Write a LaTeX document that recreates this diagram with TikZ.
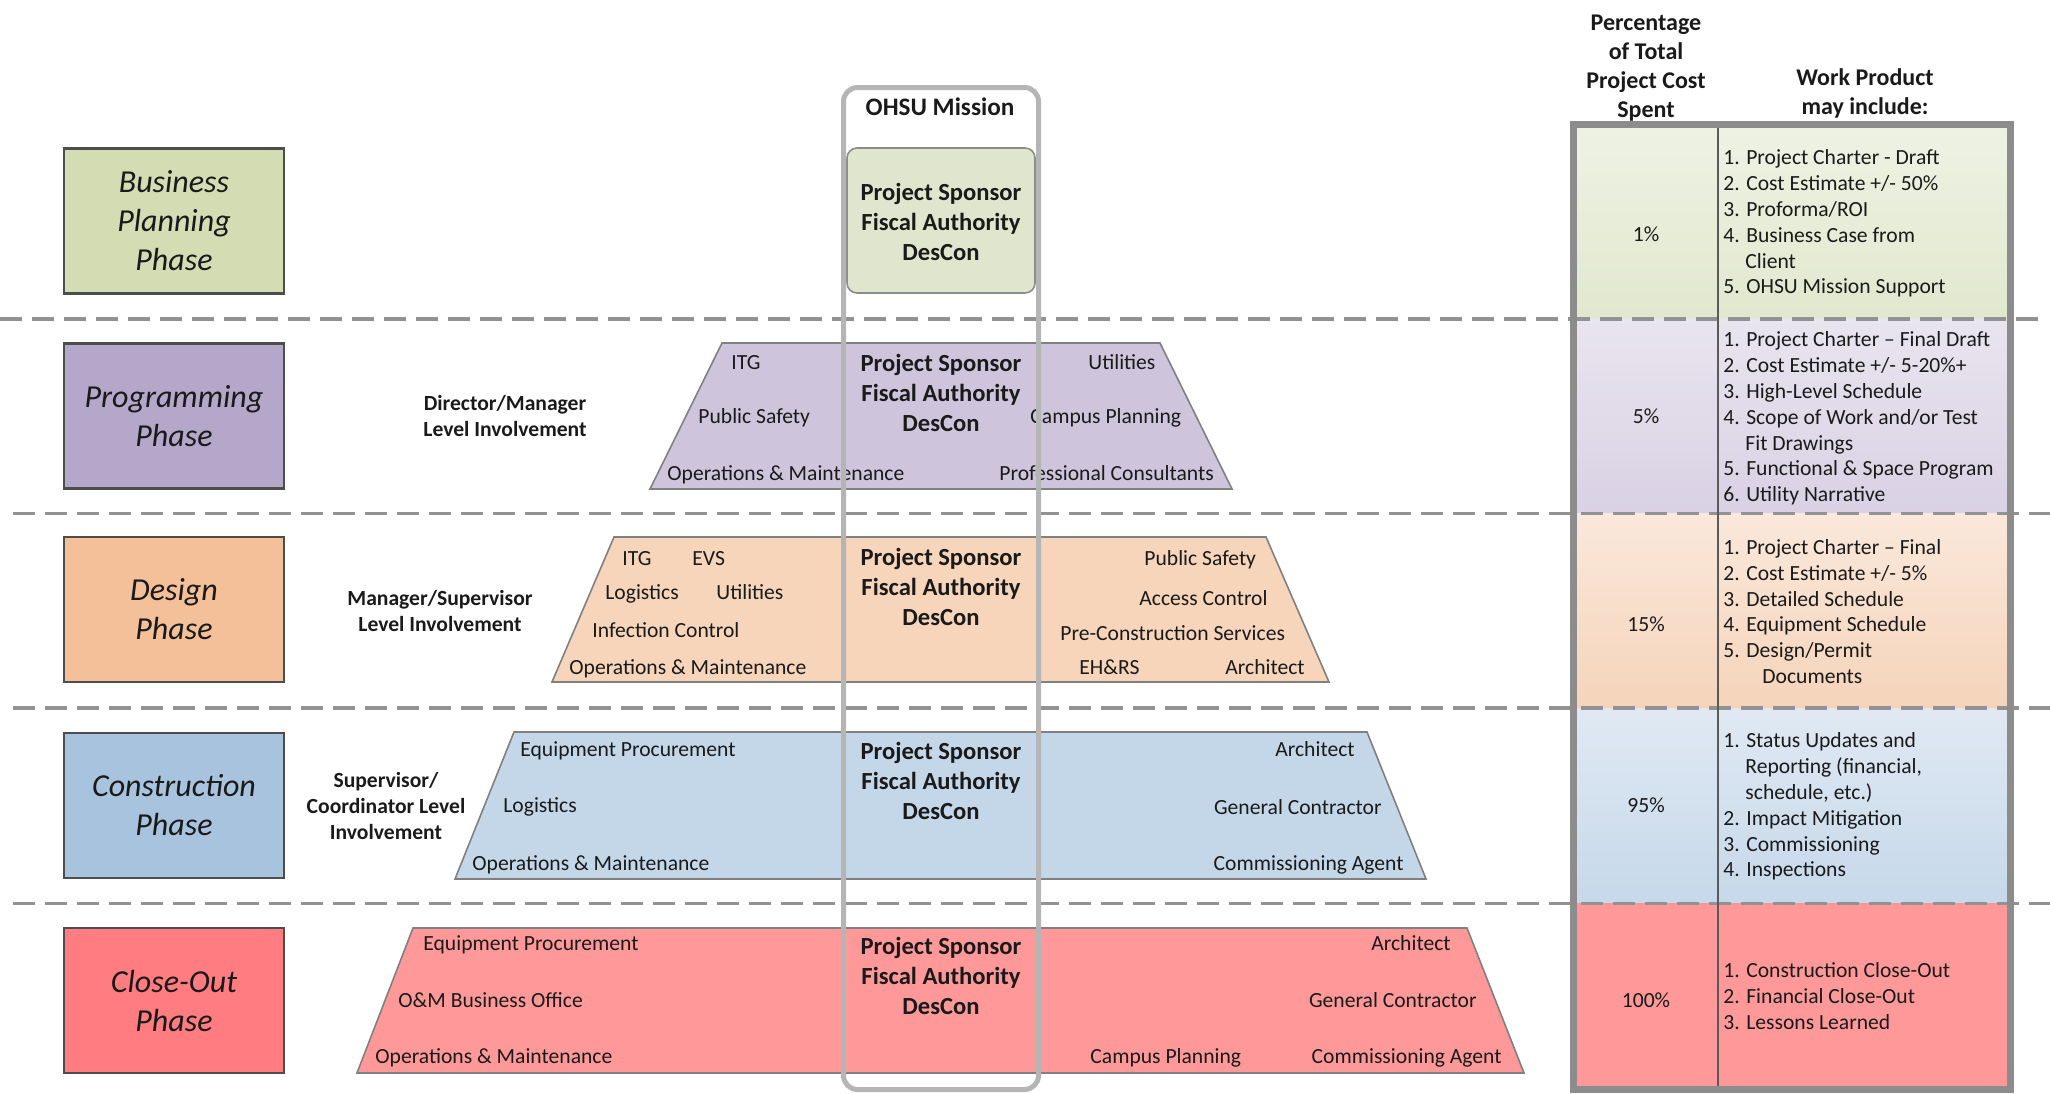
\documentclass[tikz,border=0pt]{standalone}
\usepackage{fontspec}
\setmainfont{Carlito}
\definecolor{busbox}{HTML}{D4DCB4}
\definecolor{progbox}{HTML}{B4A7C9}
\definecolor{desbox}{HTML}{F3C09A}
\definecolor{conbox}{HTML}{A7C3DD}
\definecolor{clobox}{HTML}{FF7C80}
\definecolor{progtrap}{HTML}{CEC5DC}
\definecolor{destrap}{HTML}{F7D5BA}
\definecolor{contrap}{HTML}{C4D7E9}
\definecolor{clotrap}{HTML}{FF9999}
\definecolor{buscenter}{HTML}{E0E6CD}
\definecolor{colgray}{HTML}{B5B5B5}
\definecolor{dashgray}{HTML}{929292}
\definecolor{tabgray}{HTML}{8C8C8C}
\definecolor{divgray}{HTML}{5A5A5A}
\definecolor{trapline}{HTML}{808080}
\definecolor{boxline}{HTML}{4D4D4D}
\definecolor{txt}{HTML}{1A1A1A}
\definecolor{rowAt}{HTML}{EEF2E4}
\definecolor{rowAb}{HTML}{E1E8CE}
\definecolor{rowBt}{HTML}{E9E5EF}
\definecolor{rowBb}{HTML}{D9D1E4}
\definecolor{rowCt}{HTML}{FAE8DB}
\definecolor{rowCb}{HTML}{F5D4BA}
\definecolor{rowDt}{HTML}{E0E9F3}
\definecolor{rowDb}{HTML}{C6D8EA}
\definecolor{rowE}{HTML}{FF9999}
\begin{document}
\begin{tikzpicture}[x=0.5pt,y=-0.5pt,
  phase/.style={draw=boxline, line width=1.1pt, minimum width=110pt, minimum height=72.5pt,
    inner sep=0pt, align=center, text=txt, font=\fontsize{16}{19.5}\selectfont\itshape},
  trap/.style={draw=trapline, line width=0.8pt},
  lab/.style={font=\fontsize{10.8}{13}\selectfont, inner sep=0pt, text=txt},
  labl/.style={lab, anchor=mid west, yshift=-1.6pt},
  labr/.style={lab, anchor=mid east, yshift=-1.6pt},
  lvl/.style={font=\fontsize{10.8}{13}\selectfont\bfseries, inner sep=0pt, align=center, text=txt},
  ctr/.style={font=\fontsize{12.3}{15}\selectfont\bfseries, inner sep=0pt, align=center, text=txt},
  hdr/.style={font=\fontsize{12}{14.5}\selectfont\bfseries, inner sep=0pt, align=center, text=txt},
  dashln/.style={dashgray, line width=1.6pt, dash pattern=on 11pt off 5pt},
]
\useasboundingbox (0,0) rectangle (2050,1093);

% phase boxes
\node[phase, fill=busbox] (bp) at (174,221) {Business\\Planning\\Phase};
\node[phase, fill=progbox] (pp) at (174,416) {Programming\\Phase};
\node[phase, fill=desbox] (dp) at (174,609.5) {Design\\Phase};
\node[phase, fill=conbox] (cp) at (174,805.5) {Construction\\Phase};
\node[phase, fill=clobox] (op) at (174,1000.5) {Close-Out\\Phase};

% trapezoids
\path[trap, fill=progtrap] (722,343) -- (1160,343) -- (1232,489) -- (650,489) -- cycle;
\path[trap, fill=destrap] (614,537) -- (1266,537) -- (1329,682) -- (552,682) -- cycle;
\path[trap, fill=contrap] (514,732) -- (1367,732) -- (1426,879) -- (455,879) -- cycle;
\path[trap, fill=clotrap] (413,928) -- (1467,928) -- (1524,1073) -- (357,1073) -- cycle;

% center business box
\node[draw=tabgray, line width=0.8pt, fill=buscenter, rounded corners=5pt,
  minimum width=94pt, minimum height=72.5pt, inner sep=0pt] (bc) at (941,220.5) {};

% table fills
\shade[top color=rowAt, bottom color=rowAb] (1573,125) rectangle (2011,318);
\shade[top color=rowBt, bottom color=rowBb] (1573,318) rectangle (2011,513);
\shade[top color=rowCt, bottom color=rowCb] (1573,513) rectangle (2011,708);
\shade[top color=rowDt, bottom color=rowDb] (1573,708) rectangle (2011,903);
\fill[rowE] (1573,903) rectangle (2011,1089);

% dashed separators
\draw[dashln] (0,319) -- (2042,319);
\draw[dashln] (13,513.5) -- (2050,513.5);
\draw[dashln] (13,708) -- (2050,708);
\draw[dashln] (13,903.5) -- (2050,903.5);

% table border and divider
\draw[divgray, line width=1pt] (1718,127) -- (1718,1086);
\draw[tabgray, line width=3.5pt] (1573.5,124.5) rectangle (2010.5,1089);

% headers
\node[hdr] (hpct) at (1646,68.5) {Percentage\\of Total\\Project Cost\\Spent};
\node[hdr] (hwp) at (1865,93.5) {Work Product\\may include:};
\node[font=\fontsize{12.6}{15}\selectfont\bfseries, inner sep=0pt, text=txt] (om) at (940,107) {OHSU Mission};

% center texts
\node[ctr] (c1) at (941,222) {Project Sponsor\\Fiscal Authority\\DesCon};
\node[ctr] (c2) at (941,392.5) {Project Sponsor\\Fiscal Authority\\DesCon};
\node[ctr] (c3) at (941,587) {Project Sponsor\\Fiscal Authority\\DesCon};
\node[ctr] (c4) at (941,781) {Project Sponsor\\Fiscal Authority\\DesCon};
\node[ctr] (c5) at (941,976) {Project Sponsor\\Fiscal Authority\\DesCon};

% level labels
\node[lvl] (lv2) at (505,416) {Director/Manager\\Level Involvement};
\node[lvl] (lv3) at (440,610.5) {Manager/Supervisor\\Level Involvement};
\node[lvl] (lv4) at (386,805.5) {Supervisor/\\Coordinator Level\\Involvement};

% programming labels
\node[labl] (p1) at (731,362) {ITG};
\node[labl] (p2) at (698,416) {Public Safety};
\node[labl] (p3) at (667,473) {Operations \& Maintenance};
\node[labl] (p4) at (1088,362) {Utilities};
\node[labl] (p5) at (1030,416) {Campus Planning};
\node[labl] (p6) at (999,473) {Professional Consultants};

% design labels
\node[labl] (d1) at (622,558) {ITG};
\node[labl] (d2) at (692,558) {EVS};
\node[labl] (d3) at (605,592) {Logistics};
\node[labl] (d4) at (716,592) {Utilities};
\node[labl] (d5) at (592,630) {Infection Control};
\node[labl] (d6) at (569,667) {Operations \& Maintenance};
\node[labl] (d7) at (1144,558) {Public Safety};
\node[labl] (d8) at (1139,597.5) {Access Control};
\node[labl] (d9) at (1060,633) {Pre-Construction Services};
\node[labl] (d10) at (1079,667) {EH\&RS};
\node[labl] (d11) at (1225,667) {Architect};

% construction labels
\node[labl] (k1) at (520,749) {Equipment Procurement};
\node[labl] (k2) at (503,805) {Logistics};
\node[labl] (k3) at (472,863) {Operations \& Maintenance};
\node[labr] (k4) at (1355,749) {Architect};
\node[labr] (k5) at (1382,807) {General Contractor};
\node[labr] (k6) at (1404,863) {Commissioning Agent};

% close-out labels
\node[labl] (o1) at (423,943) {Equipment Procurement};
\node[labl] (o2) at (398,1000) {O\&M Business Office};
\node[labl] (o3) at (375,1056) {Operations \& Maintenance};
\node[labr] (o4) at (1451,943) {Architect};
\node[labr] (o5) at (1477,1000) {General Contractor};
\node[labl] (o6) at (1090,1056) {Campus Planning};
\node[labr] (o7) at (1502,1056) {Commissioning Agent};

% percentages
\node[lab] (q1) at (1646,234) {1\%};
\node[lab] (q2) at (1646,416) {5\%};
\node[lab] (q3) at (1646,624) {15\%};
\node[lab] (q4) at (1646,805) {95\%};
\node[lab] (q5) at (1646,1000) {100\%};

% work products row 1
\node[labl] (a1) at (1723,157) {1. Project Charter - Draft};
\node[labl] (a2) at (1723,182.8) {2. Cost Estimate +/- 50\%};
\node[labl] (a3) at (1723,208.6) {3. Proforma/ROI};
\node[labl] (a4) at (1723,234.4) {4. Business Case from};
\node[labl] (a5) at (1745,260.2) {Client};
\node[labl] (a6) at (1723,286) {5. OHSU Mission Support};
% row 2
\node[labl] (b1) at (1723,339) {1. Project Charter – Final Draft};
\node[labl] (b2) at (1723,364.8) {2. Cost Estimate +/- 5-20\%+};
\node[labl] (b3) at (1723,390.6) {3. High-Level Schedule};
\node[labl] (b4) at (1723,416.4) {4. Scope of Work and/or Test};
\node[labl] (b5) at (1745,442.2) {Fit Drawings};
\node[labl] (b6) at (1723,468) {5. Functional \& Space Program};
\node[labl] (b7) at (1723,493.8) {6. Utility Narrative};
% row 3
\node[labl] (e1) at (1723,546.5) {1. Project Charter – Final};
\node[labl] (e2) at (1723,572.3) {2. Cost Estimate +/- 5\%};
\node[labl] (e3) at (1723,598.1) {3. Detailed Schedule};
\node[labl] (e4) at (1723,623.9) {4. Equipment Schedule};
\node[labl] (e5) at (1723,649.7) {5. Design/Permit};
\node[labl] (e6) at (1762,675.5) {Documents};
% row 4
\node[labl] (f1) at (1723,740) {1. Status Updates and};
\node[labl] (f2) at (1745,765.8) {Reporting (financial,};
\node[labl] (f3) at (1745,791.6) {schedule, etc.)};
\node[labl] (f4) at (1723,817.4) {2. Impact Mitigation};
\node[labl] (f5) at (1723,843.2) {3. Commissioning};
\node[labl] (f6) at (1723,869) {4. Inspections};
% row 5
\node[labl] (g1) at (1723,970) {1. Construction Close-Out};
\node[labl] (g2) at (1723,996) {2. Financial Close-Out};
\node[labl] (g3) at (1723,1022) {3. Lessons Learned};

% OHSU mission column (on top)
\draw[colgray, line width=2.5pt, rounded corners=7pt] (843.5,87.5) rectangle (1038.5,1089.5);
\end{tikzpicture}
\end{document}
